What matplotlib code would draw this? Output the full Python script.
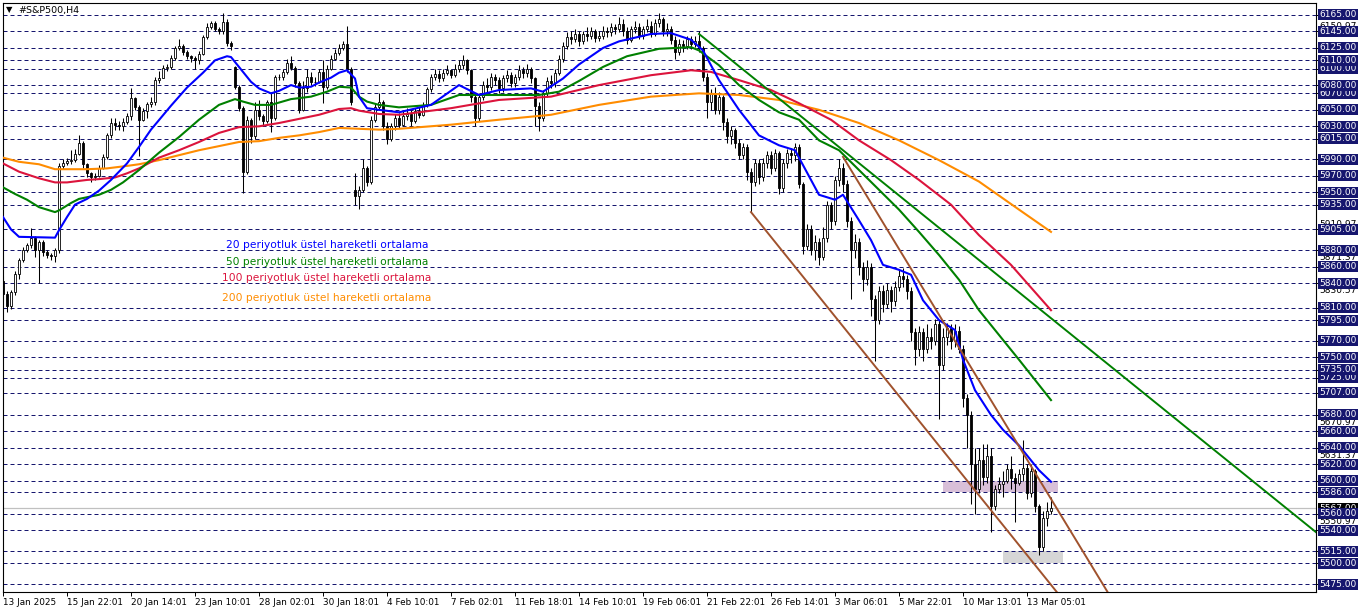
import matplotlib
matplotlib.use("Agg")
import matplotlib.pyplot as plt
import matplotlib.transforms as mtransforms
from matplotlib.patches import Rectangle
import numpy as np

# H4 candles, one per bar (open = previous close unless there was a gap)
closes = [5827, 5812, 5829, 5851, 5868, 5880, 5886, 5895, 5880, 5890,
          5877, 5874, 5873, 5880, 5982, 5986, 5988, 5989, 5996, 6010,
          5984, 5973, 5968, 5970, 5980, 5993, 6019, 6034, 6032, 6030,
          6035, 6043, 6064, 6053, 6038, 6049, 6057, 6060, 6086, 6089,
          6101, 6102, 6113, 6125, 6127, 6120, 6115, 6113, 6110, 6118,
          6138, 6150, 6155, 6148, 6145, 6157, 6131, 6128, 6078, 6052,
          5975, 6038, 6018, 6050, 6042, 6036, 6059, 6040, 6090, 6090,
          6096, 6107, 6101, 6082, 6050, 6076, 6090, 6084, 6084, 6096,
          6078, 6100, 6112, 6119, 6125, 6130, 6100, 6060, 5945, 5953,
          5980, 5962, 6038, 6053, 6060, 6030, 6015, 6030, 6040, 6032,
          6042, 6045, 6036, 6048, 6044, 6056, 6075, 6090, 6094, 6088,
          6095, 6098, 6092, 6100, 6104, 6110, 6098, 6065, 6040, 6065,
          6080, 6078, 6090, 6086, 6076, 6088, 6092, 6082, 6090, 6098,
          6095, 6100, 6088, 6055, 6040, 6070, 6085, 6082, 6095, 6112,
          6128, 6138, 6136, 6142, 6134, 6142, 6140, 6145, 6137, 6140,
          6146, 6144, 6150, 6148, 6154, 6146, 6135, 6148, 6150, 6140,
          6148, 6152, 6142, 6155, 6160, 6146, 6148, 6135, 6120, 6130,
          6128, 6136, 6130, 6134, 6125, 6090, 6060, 6070, 6050, 6065,
          6035, 6018, 6025, 6010, 5995, 6005, 5975, 5962, 5985, 5968,
          5985, 5995, 5980, 5998, 5955, 5985, 5998, 5995, 6005, 5960,
          5885, 5905, 5880, 5890, 5872, 5895, 5935, 5915, 5965, 5980,
          5960, 5915, 5880, 5890, 5860, 5845, 5860, 5820, 5795, 5830,
          5815, 5832, 5818, 5835, 5848, 5845, 5830, 5780, 5760, 5780,
          5760, 5775, 5770, 5790, 5740, 5775, 5785, 5770, 5782, 5760,
          5700, 5680, 5620, 5590, 5625, 5605, 5630, 5570, 5590, 5596,
          5600, 5615, 5603, 5598, 5608, 5616, 5585, 5612, 5570, 5520,
          5555, 5563, 5567]
highs = [5848, 5830, 5832, 5855, 5870, 5884, 5888, 5907, 5897, 5892,
         5892, 5880, 5876, 5883, 5985, 5990, 5992, 6001, 6003, 6020,
         6012, 5985, 5975, 5974, 5983, 5996, 6022, 6040, 6040, 6037,
         6040, 6046, 6076, 6066, 6056, 6052, 6060, 6066, 6090, 6097,
         6104, 6105, 6116, 6128, 6136, 6130, 6122, 6117, 6115, 6121,
         6141, 6155, 6158, 6158, 6150, 6167, 6160, 6133, 6103, 6080,
         6055, 6042, 6040, 6060, 6062, 6045, 6062, 6072, 6092, 6094,
         6100, 6112, 6115, 6103, 6085, 6085, 6100, 6096, 6090, 6100,
         6110, 6104, 6116, 6124, 6130, 6134, 6152, 6102, 5974, 5958,
         5990, 5982, 6042, 6058, 6070, 6062, 6035, 6034, 6045, 6046,
         6048, 6052, 6050, 6052, 6053, 6060, 6078, 6094, 6100, 6098,
         6099, 6104, 6100, 6105, 6110, 6116, 6112, 6100, 6068, 6068,
         6085, 6088, 6095, 6094, 6090, 6092, 6098, 6096, 6094, 6104,
         6102, 6106, 6102, 6090, 6060, 6074, 6090, 6092, 6100, 6116,
         6132, 6144, 6146, 6148, 6146, 6146, 6150, 6150, 6148, 6146,
         6152, 6150, 6155, 6154, 6162, 6160, 6150, 6152, 6158, 6155,
         6152, 6160, 6158, 6160, 6168, 6162, 6155, 6152, 6140, 6136,
         6135, 6140, 6140, 6140, 6145, 6128, 6095, 6075, 6078, 6072,
         6068, 6040, 6030, 6028, 6015, 6010, 6008, 5980, 5990, 5990,
         5992, 6000, 6000, 6003, 6000, 5990, 6002, 6004, 6010, 6008,
         5962, 5912, 5910, 5898, 5895, 5908, 5940, 5938, 5970, 5990,
         5985, 5965, 5920, 5900, 5895, 5866, 5868, 5864, 5825, 5836,
         5838, 5840, 5836, 5842, 5856, 5858, 5850, 5835, 5785, 5788,
         5785, 5790, 5785, 5796, 5795, 5785, 5792, 5790, 5790, 5788,
         5765, 5705, 5685, 5640, 5640, 5645, 5645, 5640, 5595, 5605,
         5612, 5620, 5630, 5610, 5615, 5650, 5620, 5620, 5615, 5572,
         5563, 5575, 5580]
lows = [5820, 5805, 5808, 5825, 5845, 5866, 5878, 5883, 5872, 5840,
        5873, 5870, 5868, 5865, 5876, 5978, 5983, 5984, 5987, 5995,
        5980, 5968, 5963, 5965, 5968, 5978, 5990, 6016, 6026, 6025,
        6024, 6033, 6038, 6050, 5994, 6036, 6040, 6054, 6056, 6083,
        6088, 6097, 6100, 6110, 6122, 6117, 6112, 6108, 6100, 6106,
        6116, 6136, 6148, 6145, 6142, 6142, 6128, 6122, 6075, 6048,
        5949, 5972, 6010, 6015, 6038, 6030, 6034, 6023, 6038, 6086,
        6086, 6094, 6098, 6078, 6046, 6048, 6072, 6080, 6079, 6082,
        6058, 6075, 6098, 6110, 6116, 6122, 6096, 6056, 5935, 5930,
        5950, 5958, 5960, 6035, 6050, 6025, 6008, 6012, 6026, 6028,
        6030, 6038, 6030, 6034, 6040, 6042, 6054, 6072, 6086, 6084,
        6085, 6092, 6088, 6090, 6096, 6100, 6094, 6060, 6030, 6036,
        6062, 6072, 6074, 6080, 6070, 6072, 6084, 6078, 6078, 6086,
        6088, 6090, 6082, 6030, 6024, 6036, 6066, 6076, 6078, 6092,
        6108, 6124, 6130, 6132, 6128, 6130, 6134, 6136, 6132, 6134,
        6136, 6138, 6140, 6142, 6144, 6140, 6130, 6132, 6143, 6136,
        6136, 6144, 6138, 6140, 6150, 6140, 6140, 6130, 6112, 6116,
        6120, 6124, 6124, 6126, 6120, 6085, 6040, 6050, 6045, 6045,
        6025, 6010, 6008, 6004, 5990, 5990, 5965, 5926, 5958, 5960,
        5964, 5980, 5972, 5976, 5948, 5950, 5980, 5986, 5988, 5955,
        5875, 5880, 5874, 5868, 5862, 5868, 5890, 5905, 5910, 5958,
        5950, 5908, 5820, 5870, 5850, 5830, 5838, 5800, 5745, 5790,
        5805, 5810, 5805, 5812, 5830, 5835, 5820, 5770, 5740, 5752,
        5745, 5755, 5760, 5765, 5675, 5735, 5765, 5760, 5762, 5755,
        5690, 5640, 5572, 5560, 5585, 5595, 5598, 5538, 5565, 5585,
        5580, 5598, 5590, 5550, 5595, 5600, 5578, 5580, 5562, 5510,
        5515, 5545, 5560]
first_open = 5843
gap_opens = {58: 6102, 88: 5953}

# moving averages (bar index, price)
ema20_bars = [0, 2, 4, 13, 14, 16, 18, 21, 24, 27, 31, 34, 37, 42, 46, 50, 53, 56, 57, 59,
              62, 64, 67, 69, 72, 74, 77, 79, 82, 84, 86, 88, 89, 91, 94, 99, 107, 114, 119,
              124, 132, 135, 140, 144, 150, 154, 162, 167, 172, 175, 179, 184, 189, 194, 198,
              200, 204, 208, 210, 214, 217, 220, 224, 227, 230, 234, 238, 240, 243, 247, 250,
              254, 259, 262]
ema20_vals = [5920, 5905, 5896, 5895, 5904, 5920, 5935, 5942, 5952, 5965, 5985, 6005, 6026, 6055,
              6077, 6095, 6110, 6115, 6114, 6102, 6084, 6076, 6070, 6073, 6080, 6077, 6078, 6083,
              6089, 6095, 6098, 6088, 6066, 6052, 6050, 6047, 6056, 6080, 6068, 6074, 6076, 6072,
              6088, 6105, 6125, 6133, 6142, 6143, 6135, 6122, 6086, 6050, 6019, 6007, 6001, 5983,
              5947, 5941, 5947, 5916, 5892, 5862, 5856, 5850, 5819, 5795, 5783, 5747, 5710, 5680,
              5662, 5643, 5613, 5599]
ema50_bars = [0, 3, 6, 9, 13, 14, 17, 19, 24, 27, 30, 34, 39, 44, 49, 54, 58, 60, 63, 67, 72,
              77, 81, 84, 87, 89, 91, 94, 99, 107, 114, 124, 134, 139, 144, 150, 156, 164, 172,
              174, 179, 184, 189, 194, 199, 204, 209, 214, 219, 224, 229, 234, 239, 244, 249,
              254, 262]
ema50_vals = [5956, 5948, 5941, 5932, 5926, 5928, 5937, 5942, 5947, 5953, 5962, 5977, 5998, 6017,
              6038, 6056, 6063, 6060, 6056, 6056, 6063, 6066, 6072, 6078, 6077, 6066, 6060, 6056,
              6053, 6056, 6068, 6068, 6068, 6072, 6085, 6102, 6115, 6124, 6126, 6122, 6104, 6080,
              6062, 6047, 6038, 6013, 6001, 5977, 5953, 5929, 5902, 5874, 5844, 5807, 5777, 5747,
              5698]
ema100_bars = [0, 4, 9, 13, 16, 21, 24, 28, 31, 34, 39, 44, 49, 54, 59, 64, 69, 74, 79, 84, 87,
               89, 94, 99, 112, 124, 137, 149, 162, 172, 177, 184, 192, 199, 207, 214, 222, 229,
               237, 244, 252, 262]
ema100_vals = [5985, 5975, 5967, 5962, 5962, 5965, 5966, 5968, 5973, 5979, 5992, 6001, 6011, 6022,
               6029, 6030, 6034, 6039, 6044, 6051, 6052, 6049, 6045, 6044, 6052, 6062, 6066, 6080,
               6092, 6098, 6096, 6086, 6074, 6058, 6038, 6013, 5989, 5965, 5935, 5898, 5862, 5807]
ema200_bars = [0, 4, 9, 13, 21, 26, 31, 34, 39, 44, 49, 54, 59, 64, 69, 74, 79, 84, 89, 94, 99,
               112, 124, 137, 149, 162, 174, 184, 194, 204, 214, 224, 234, 244, 254, 262]
ema200_vals = [5992, 5987, 5984, 5978, 5978, 5979, 5982, 5984, 5989, 5995, 6001, 6006, 6011, 6012,
               6016, 6019, 6023, 6028, 6027, 6026, 6027, 6032, 6038, 6044, 6056, 6066, 6070, 6068,
               6062, 6050, 6034, 6013, 5989, 5963, 5929, 5902]

# drawn objects: trend lines (bar, price) pairs and zones
green_line = ([174, 330], [6142, 5531])
channel_low = ([187, 300], [5926, 5245])
channel_high = ([210, 300], [5993, 5275])
zone_purple = (235, 263.75, 5586, 5600)
zone_gray = (250, 265, 5500, 5515)

level_prices = [6165, 6145, 6125, 6110, 6100, 6080, 6070, 6050, 6030, 6015, 5990, 5970, 5950,
                5935, 5905, 5880, 5860, 5840, 5810, 5795, 5770, 5750, 5735, 5725, 5707, 5680,
                5660, 5640, 5620, 5600, 5586, 5560, 5540, 5515, 5500, 5475]
pivot_prices = [6150.97, 5910.97, 5871.37, 5830.57, 5790.97, 5670.97, 5631.37, 5550.97,
                5510.97, 5470.97]
last_price = 5567.00

tick_bars = list(range(0, 257, 16))
tick_labels = ['13 Jan 2025', '15 Jan 22:01', '20 Jan 14:01', '23 Jan 10:01', '28 Jan 02:01',
               '30 Jan 18:01', '4 Feb 10:01', '7 Feb 02:01', '11 Feb 18:01', '14 Feb 10:01',
               '19 Feb 06:01', '21 Feb 22:01', '26 Feb 14:01', '3 Mar 06:01', '5 Mar 22:01',
               '10 Mar 13:01', '13 Mar 05:01']

legend_texts = ['20 periyotluk üstel hareketli ortalama', '50 periyotluk üstel hareketli ortalama',
                '100 periyotluk üstel hareketli ortalama', '200 periyotluk üstel hareketli ortalama']
legend_prices = [5886, 5866, 5846, 5822]
ema_colors = ['#0000ff', '#008000', '#dc143c', '#ff8c00']

W, H = 1362, 611
navy = '#16166e'
plt.rcParams['font.family'] = ['DejaVu Sans']

fig = plt.figure(figsize=(W / 100, H / 100), dpi=100)
ax = fig.add_axes([3 / W, 1 - 592 / H, (1316 - 3) / W, (592 - 3) / H])
ybot, ytop = 5465.3, 6179.55
ax.set_xlim(0, 328.25)
ax.set_ylim(ybot, ytop)
unit = (ytop - ybot) / (592 - 3)

# zones
for b0, b1, p0, p1 in [zone_purple]:
    ax.add_patch(Rectangle((b0, p0), b1 - b0, p1 - p0, fc='#d8bfd8', ec='none', zorder=0.5))
for b0, b1, p0, p1 in [zone_gray]:
    ax.add_patch(Rectangle((b0, p0), b1 - b0, p1 - p0, fc='#d6d6d6', ec='none', zorder=0.5))

# dashed levels and current price line
for p in level_prices:
    ax.axhline(p, color=navy, lw=0.72, ls=(0, (4, 3)), zorder=1)
ax.axhline(last_price, color='#c0c0c0', lw=0.9, zorder=1)

# candles
n = len(closes)
bars = np.arange(n)
opens = [first_open] + closes[:-1]
for k, v in gap_opens.items():
    opens[k] = v
o = np.array(opens, dtype=float)
c = np.array(closes, dtype=float)
ax.vlines(bars, lows, highs, color='black', lw=0.75, zorder=3)
body_colors = np.where(c >= o, 'white', 'black')
ax.bar(bars, c - o, bottom=o, width=0.72, color=body_colors, edgecolor='black',
       linewidth=0.6, zorder=4)

# moving averages
for bx, vals, col in [(ema200_bars, ema200_vals, ema_colors[3]),
                      (ema100_bars, ema100_vals, ema_colors[2]),
                      (ema50_bars, ema50_vals, ema_colors[1]),
                      (ema20_bars, ema20_vals, ema_colors[0])]:
    ax.plot(bx, vals, color=col, lw=1.5, zorder=5, solid_joinstyle='round')

# trend lines
ax.plot(*green_line, color='#008000', lw=1.4, zorder=5)
ax.plot(*channel_low, color='#a0522d', lw=1.4, zorder=5)
ax.plot(*channel_high, color='#a0522d', lw=1.4, zorder=5)

# legend texts
for txt, p, col in zip(legend_texts, legend_prices, ema_colors):
    ax.text(81, p, txt, color=col, fontsize=7.7, ha='center', va='center', zorder=6)

# axes styling
for s in ax.spines.values():
    s.set_color('black')
    s.set_linewidth(0.8)
ax.set_xticks(tick_bars)
ax.set_xticklabels(tick_labels, ha='left', fontsize=6.4)
ax.tick_params(axis='x', length=3, width=0.7, pad=1.5)
ax.yaxis.set_ticks_position('right')
ax.set_yticks(level_prices)
ax.tick_params(axis='y', length=3, width=0.7, labelleft=False, labelright=False)

# right-hand price labels
trans = mtransforms.blended_transform_factory(fig.transFigure, ax.transData)
for p in pivot_prices:
    ax.text(1338 / W, p, f'{p:.2f}', transform=trans, color='black', ha='center',
            va='center', fontsize=6.5, clip_on=False, zorder=7)
ax.add_patch(Rectangle((1318 / W, last_price - 5.5 * unit), 40 / W, 11 * unit, transform=trans,
                       fc='black', ec='none', clip_on=False, zorder=8))
ax.text(1338 / W, last_price, f'{last_price:.2f}', transform=trans, color='white', ha='center',
        va='center', fontsize=6.5, clip_on=False, zorder=8)
for p in sorted(level_prices):
    ax.add_patch(Rectangle((1318 / W, p - 5.5 * unit), 40 / W, 11 * unit, transform=trans,
                           fc=navy, ec='none', clip_on=False, zorder=9))
    ax.text(1338 / W, p, f'{p:.2f}', transform=trans, color='white', ha='center',
            va='center', fontsize=6.5, clip_on=False, zorder=9)

# chart title
fig.text(6 / W, 1 - 10 / H, '▼', fontsize=6, va='center', ha='left')
fig.text(18 / W, 1 - 10 / H, '#S&P500,H4', fontsize=6.8, va='center', ha='left')

fig.savefig('out.png', dpi=100)
